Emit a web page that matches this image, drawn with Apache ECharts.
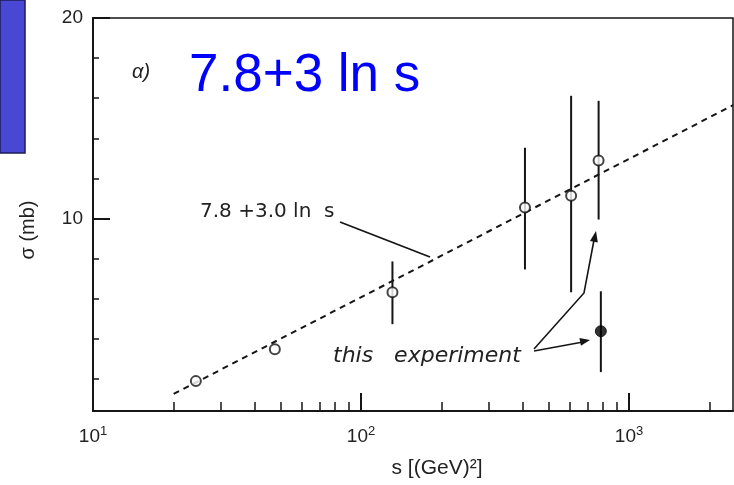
<!DOCTYPE html>
<html><head><meta charset="utf-8">
<script src="https://cdn.jsdelivr.net/npm/echarts@6/dist/echarts.min.js"></script>
<style>html,body{margin:0;padding:0;background:#fff}#c{width:734px;height:485px}</style>
</head><body><div id="c"></div>
<script>
// ---- data ----
const sValues      = [24.2, 47.7, 131, 409, 608, 770];
const sigmaValues  = [1.89, 3.48, 6.32, 10.55, 11.14, 12.89];
const sigmaLow     = [null, null, 4.73, 7.46, 6.32, 9.95];
const sigmaHigh    = [null, null, 7.86, 13.53, 16.12, 15.87];
const expS         = [785];
const expSigma     = [4.38];
const expLow       = [2.34];
const expHigh      = [6.37];
const fitS         = [20, 2443];
const fitSigma     = [1.25, 15.65];
const xMajorTicks  = [10, 100, 1000];
const xMinorTicks  = [20,30,40,50,60,70,80,90,200,300,400,500,600,700,800,900,2000];
const yMajorTicks  = [10, 20];
const yMinorTicks  = [2,4,6,8,12,14,16,18];

const ink = '#151515';
const font = '"Liberation Sans", Arial, sans-serif';
const wide = '"DejaVu Sans", sans-serif';

const pts = sValues.map((s,i)=>[s, sigmaValues[i]]);
const bars = [];
sValues.forEach((s,i)=>{ if (sigmaLow[i]!=null) bars.push([s, sigmaLow[i], sigmaHigh[i]]); });
expS.forEach((s,i)=>bars.push([s, expLow[i], expHigh[i]]));
const expPts = expS.map((s,i)=>[s, expSigma[i]]);
const fitPts = fitS.map((s,i)=>[s, fitSigma[i]]);

function arrowHead(tip, from, len, half){
  const dx = tip[0]-from[0], dy = tip[1]-from[1];
  const d = Math.hypot(dx,dy), ux = dx/d, uy = dy/d;
  const bx = tip[0]-ux*len, by = tip[1]-uy*len;
  return [tip, [bx - uy*half, by + ux*half], [bx + uy*half, by - ux*half]];
}

const chart = echarts.init(document.getElementById('c'), null, {renderer:'canvas'});
const xBase = {type:'log', logBase:10, min:10, max:2443, gridIndex:0, position:'bottom',
  splitLine:{show:false}, axisLine:{onZero:false}};
const yBase = {type:'value', min:0.4, max:20, gridIndex:0, position:'left', splitLine:{show:false}};

chart.setOption({
  animation:false,
  backgroundColor:'#fff',
  grid:{left:93, right:1, top:18, bottom:74, show:true, borderColor:ink, borderWidth:1.5},
  xAxis:[
    Object.assign({}, xBase, {
      axisLine:{onZero:false, lineStyle:{color:ink, width:2}},
      axisTick:{inside:true, length:18, customValues:xMajorTicks, lineStyle:{color:ink, width:2}},
      axisLabel:{customValues:xMajorTicks, margin:14, color:'#222',
        formatter:v=>'{b|10}{s|'+Math.round(Math.log10(v))+'}',
        rich:{b:{fontSize:19, fontFamily:font, color:'#222'}, s:{fontSize:13, fontFamily:font, color:'#222', padding:[0,0,10,0]}}}
    }),
    Object.assign({}, xBase, {
      axisLine:{show:false, onZero:false},
      axisTick:{inside:true, length:9, customValues:xMinorTicks, lineStyle:{color:ink, width:1.5}},
      axisLabel:{show:false}
    })
  ],
  yAxis:[
    Object.assign({}, yBase, {
      axisLine:{show:true, lineStyle:{color:ink, width:2}},
      axisTick:{show:true, inside:true, length:17, customValues:yMajorTicks, lineStyle:{color:ink, width:2}},
      axisLabel:{customValues:yMajorTicks, margin:10, fontSize:19, fontFamily:font, color:'#222'}
    }),
    Object.assign({}, yBase, {
      axisLine:{show:false},
      axisTick:{show:true, inside:true, length:6, customValues:yMinorTicks, lineStyle:{color:ink, width:1.5}},
      axisLabel:{show:false}
    })
  ],
  series:[
    {type:'line', data:fitPts, symbol:'none', silent:true, z:1,
      lineStyle:{color:ink, width:2, type:[6,5]}},
    {type:'custom', data:bars, z:2, silent:true,
      renderItem:(params, api)=>{
        const x = api.value(0);
        const a = api.coord([x, api.value(1)]), b = api.coord([x, api.value(2)]);
        return {type:'line', shape:{x1:a[0], y1:a[1], x2:b[0], y2:b[1]}, style:{stroke:ink, lineWidth:2}};
      }},
    {type:'scatter', data:pts, symbol:'circle', symbolSize:10, z:3,
      itemStyle:{color:'#fff', borderColor:ink, borderWidth:2}},
    {type:'scatter', data:expPts, symbol:'circle', symbolSize:11, z:3,
      itemStyle:{color:'#000', borderColor:'#000', borderWidth:1}}
  ],
  graphic:[
    {type:'rect', shape:{x:0, y:0, width:25, height:153}, style:{fill:'#4848d4', stroke:'#1c1c55', lineWidth:1.5}},
    {type:'text', x:189, y:76, style:{text:'7.8+3 ln s', fontSize:53, fontFamily:font, fill:'#0000ff', verticalAlign:'middle'}},
    {type:'text', x:132, y:72, style:{text:'α)', fontSize:20, fontStyle:'italic', fontFamily:font, fill:'#222', verticalAlign:'middle'}},
    {type:'text', x:200, y:212, style:{text:'7.8 +3.0 ln  s', fontSize:20, fontFamily:wide, fill:'#222', verticalAlign:'middle'}},
    {type:'line', shape:{x1:340, y1:222, x2:430, y2:257}, style:{stroke:ink, lineWidth:1.8}},
    {type:'text', x:333, y:356, style:{text:'this   experiment', fontSize:22, fontStyle:'italic', fontFamily:wide, fill:'#222', verticalAlign:'middle'}},
    {type:'polyline', shape:{points:[[534,351],[583,342]]}, style:{stroke:ink, lineWidth:1.6, fill:null}},
    {type:'polygon', shape:{points:arrowHead([590,340],[534,351],10,4)}, style:{fill:ink}},
    {type:'polyline', shape:{points:[[534,349],[584,293],[594,240]]}, style:{stroke:ink, lineWidth:1.6, fill:null}},
    {type:'polygon', shape:{points:arrowHead([596,231],[584,293],11,4)}, style:{fill:ink}},
    {type:'text', x:28, y:230, rotation:Math.PI/2, style:{text:'σ (mb)', fontSize:20, fontFamily:font, fill:'#222', align:'center', verticalAlign:'middle'}},
    {type:'text', x:437, y:468, style:{text:'s [(GeV)²]', fontSize:21, fontFamily:font, fill:'#222', align:'center', verticalAlign:'middle'}}
  ]
});
</script></body></html>
